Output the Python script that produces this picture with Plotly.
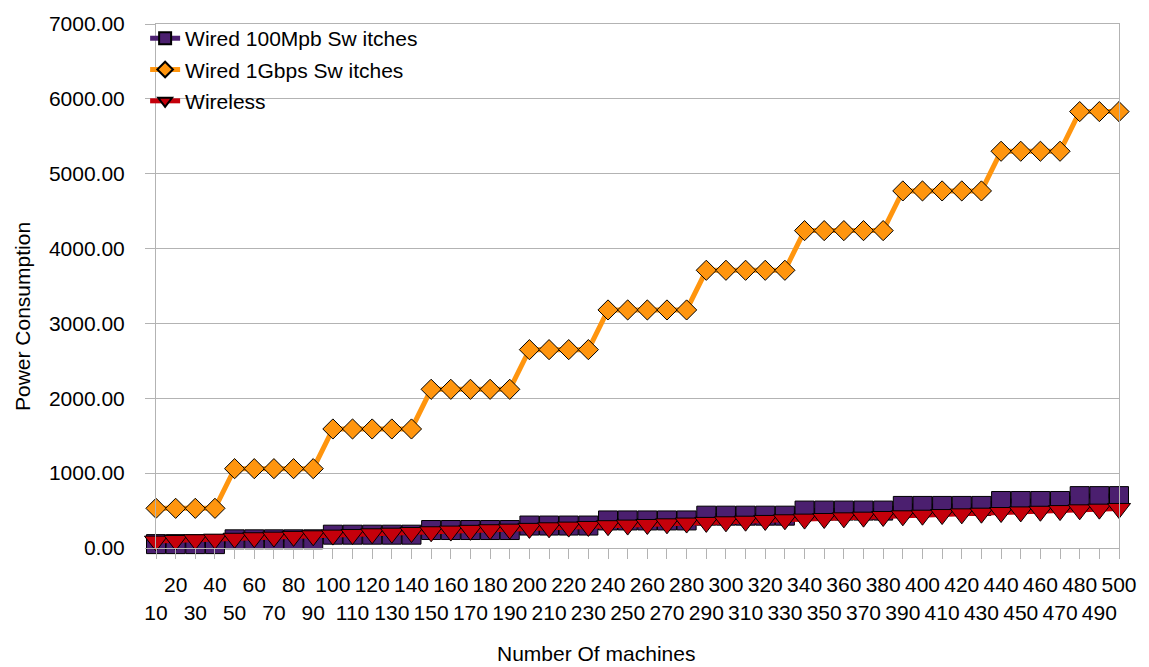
import plotly.graph_objects as go

# Number of machines on the x axis
machines = list(range(10, 510, 10))

# Power consumption per configuration
wired_100mbps = [52, 52, 52, 52,
                 116, 116, 116, 116, 116,
                 178, 178, 178, 178, 178,
                 240, 240, 240, 240, 240,
                 300, 300, 300, 300,
                 368, 368, 368, 368, 368,
                 432, 432, 432, 432, 432,
                 500, 500, 500, 500, 500,
                 562, 562, 562, 562, 562,
                 628, 628, 628, 628,
                 693, 693, 693]

wired_1gbps = [530, 530, 530, 530,
               1060, 1060, 1060, 1060, 1060,
               1590, 1590, 1590, 1590, 1590,
               2120, 2120, 2120, 2120, 2120,
               2650, 2650, 2650, 2650,
               3180, 3180, 3180, 3180, 3180,
               3710, 3710, 3710, 3710, 3710,
               4240, 4240, 4240, 4240, 4240,
               4770, 4770, 4770, 4770, 4770,
               5300, 5300, 5300, 5300,
               5830, 5830, 5830]

wireless = [92, 100, 110, 118, 130, 137, 145, 155, 163, 172,
            180, 190, 198, 207, 217, 226, 236, 244, 252, 262,
            270, 279, 288, 298, 306, 314, 323, 333, 342, 350,
            358, 368, 377, 386, 394, 403, 412, 421, 430, 438,
            447, 456, 465, 474, 482, 491, 500, 510, 519, 528]

series_names = ["Wired 100Mpb Sw itches", "Wired 1Gbps Sw itches", "Wireless"]
series_colors = ["#4b1f6f", "#ff950e", "#c5000b"]

y_ticks = [0, 1000, 2000, 3000, 4000, 5000, 6000, 7000]

# two staggered rows of category labels
tick_text = [("<br>%d" % m) if i % 2 == 0 else str(m) for i, m in enumerate(machines)]

FONT = "Liberation Sans, Arial, sans-serif"
GRID = "#b3b3b3"

fig = go.Figure()

fig.add_trace(go.Scatter(
    x=machines, y=wired_100mbps, name=series_names[0], mode="lines+markers",
    legendgroup="a", cliponaxis=False,
    line=dict(color=series_colors[0], width=5),
    marker=dict(symbol="square", size=19, color=series_colors[0],
                line=dict(color="#000000", width=1)),
))
fig.add_trace(go.Scatter(
    x=machines, y=wired_1gbps, name=series_names[1], mode="lines+markers",
    legendgroup="b", cliponaxis=False,
    line=dict(color=series_colors[1], width=5),
    marker=dict(symbol="diamond", size=15.5, color=series_colors[1],
                line=dict(color="#000000", width=1)),
))
fig.add_trace(go.Scatter(
    x=machines, y=wireless, name=series_names[2], mode="lines+markers",
    legendgroup="c", cliponaxis=False,
    line=dict(color=series_colors[2], width=5),
    marker=dict(symbol="triangle-down", size=20, color=series_colors[2],
                line=dict(color="#000000", width=1)),
))

fig.update_layout(
    width=1149, height=667,
    margin=dict(l=156, r=22, t=18, b=118.5),
    paper_bgcolor="white", plot_bgcolor="white",
    font=dict(family=FONT, size=21, color="#000000"),
    showlegend=True,
    legend=dict(
        x=-0.0113, y=1.0113, xanchor="left", yanchor="top",
        bgcolor="rgba(0,0,0,0)", borderwidth=0,
        font=dict(family=FONT, size=21, color="#000000"),
        traceorder="grouped", tracegroupgap=1,
        itemsizing="constant",
    ),
    xaxis=dict(
        range=[10, 500], tickmode="array", tickvals=machines, ticktext=tick_text,
        showgrid=False, zeroline=False,
        showline=True, linecolor=GRID, linewidth=1, mirror=True,
        ticks="outside", ticklen=10, tickcolor=GRID, tickwidth=1,
        tickangle=0, ticklabelstandoff=8,
        tickfont=dict(family=FONT, size=21, color="#000000"),
    ),
    yaxis=dict(
        range=[0, 7000], tickmode="array", tickvals=y_ticks,
        ticktext=["%.2f" % v for v in y_ticks],
        showgrid=True, gridcolor=GRID, gridwidth=1, zeroline=False,
        showline=True, linecolor=GRID, linewidth=1, mirror=True,
        ticks="outside", ticklen=10, tickcolor=GRID, tickwidth=1,
        ticklabelstandoff=16,
        tickfont=dict(family=FONT, size=21, color="#000000"),
    ),
    annotations=[
        dict(text="Number Of machines", x=0.4573, y=-0.2008, xref="paper", yref="paper",
             xanchor="center", yanchor="middle", showarrow=False,
             font=dict(family=FONT, size=21, color="#000000")),
        dict(text="Power Consumption", x=-0.1380, y=0.441, xref="paper", yref="paper",
             xanchor="center", yanchor="middle", showarrow=False, textangle=-90,
             font=dict(family=FONT, size=21, color="#000000")),
    ],
)

fig.write_html("out.html")
